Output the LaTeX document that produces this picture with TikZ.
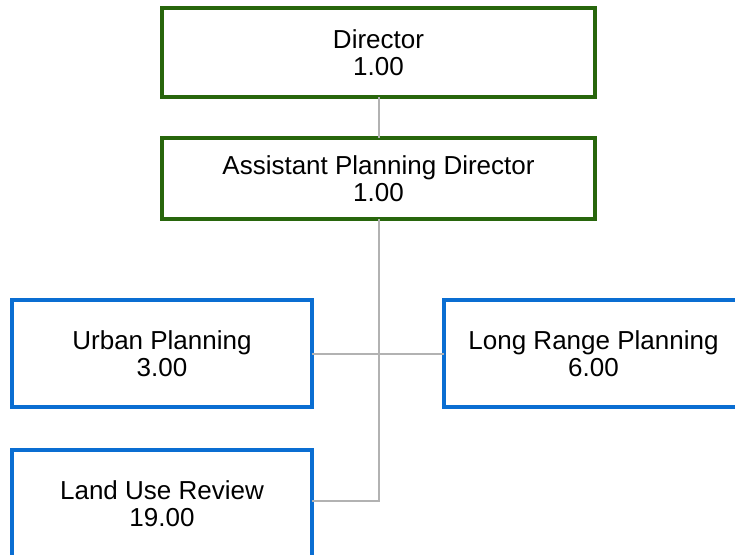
\documentclass[tikz,border=0pt]{standalone}
\usepackage{fontspec}
\setmainfont{Liberation Sans}
\definecolor{mgrgreen}{RGB}{40,102,12}
\definecolor{unitblue}{RGB}{10,110,210}
\definecolor{linkgray}{RGB}{178,178,178}
\tikzset{
  orgbox/.style={draw, line width=3.5pt, fill=white, inner sep=0pt, outer sep=0pt,
    align=center, font=\fontsize{26}{26.5}\selectfont},
  mgrbox/.style={orgbox, draw=mgrgreen, minimum width=433pt},
  unitbox/.style={orgbox, draw=unitblue, minimum width=300pt, minimum height=107pt},
  link/.style={draw=linkgray, line width=2pt}
}
\begin{document}
\begin{tikzpicture}[x=1pt, y=-1pt]
  \useasboundingbox (0,0) rectangle (735,554);
  \node[mgrbox, minimum height=89pt] (dir) at (378.5,52.5) {Director\\1.00};
  \node[mgrbox, minimum height=81pt] (asst) at (378.5,178.5) {Assistant Planning Director\\1.00};
  \node[unitbox] (urb) at (162,353.5) {Urban Planning\\3.00};
  \node[unitbox, minimum width=299pt] (lrp) at (593.5,353.5) {Long Range Planning\\6.00};
  \node[unitbox] (land) at (162,503.5) {Land Use Review\\19.00};
  % reporting lines
  \draw[link] (dir) -- (asst);
  \draw[link] (asst.south) |- ([yshift=2.5pt]land.east);
  \draw[link] (urb) -- (lrp);
\end{tikzpicture}
\end{document}
